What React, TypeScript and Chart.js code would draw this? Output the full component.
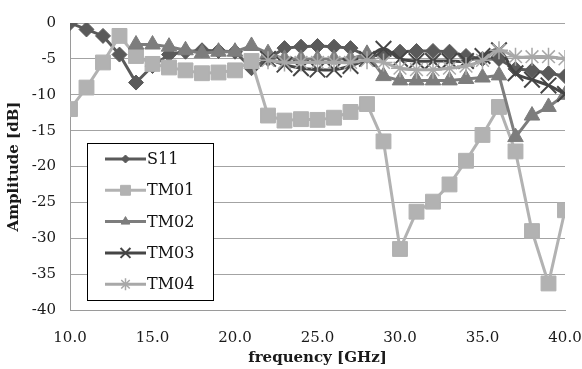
import React, { useEffect, useRef } from 'react';
import { Chart, registerables } from 'chart.js';
import { drawPoint } from 'chart.js/helpers';

Chart.register(...registerables);

const freq = [10, 11, 12, 13, 14, 15, 16, 17, 18, 19, 20, 21, 22, 23, 24, 25, 26, 27, 28, 29, 30, 31, 32, 33, 34, 35, 36, 37, 38, 39, 40];

const s11 = [0, -0.9, -1.8, -4.4, -8.3, -6.0, -4.4, -4.0, -3.8, -3.9, -4.0, -6.3, -5.0, -3.5, -3.3, -3.2, -3.3, -3.5, -4.6, -4.5, -4.0, -3.9, -3.9, -4.0, -4.6, -5.0, -5.0, -6.4, -6.6, -7.0, -7.4];

const tm01 = [-12.0, -9.0, -5.5, -1.8, -4.6, -5.7, -6.2, -6.6, -7.0, -6.9, -6.6, -5.3, -12.9, -13.6, -13.4, -13.5, -13.2, -12.4, -11.3, -16.5, -31.5, -26.3, -24.9, -22.5, -19.2, -15.6, -11.7, -17.9, -29.0, -36.3, -26.1];

const tm02 = [null, null, null, null, -3.0, -3.0, -3.3, -3.8, -4.2, -4.0, -4.0, -3.2, -4.2, -5.0, -5.0, -5.0, -5.0, -5.0, -4.3, -7.4, -8.0, -8.0, -8.0, -8.0, -7.8, -7.6, -7.3, -15.9, -12.9, -11.7, -10.0];

const tm03 = [null, null, null, null, null, null, null, null, null, null, null, null, -5.0, -5.8, -6.3, -6.5, -6.5, -6.0, -5.0, -3.6, -5.0, -5.3, -5.3, -5.3, -5.3, -4.6, -3.8, -7.0, -7.9, -8.7, -9.9];

const tm04 = [null, null, null, null, null, null, null, null, null, null, null, null, -5.2, -5.5, -5.5, -5.5, -5.5, -5.5, -5.2, -5.5, -6.3, -6.5, -6.5, -6.3, -6.0, -5.2, -3.8, -4.7, -4.7, -4.7, -5.0];

const seriesNames = ['S11', 'TM01', 'TM02', 'TM03', 'TM04'];
const xTicks = [10, 15, 20, 25, 30, 35, 40];
const yTicks = [0, -5, -10, -15, -20, -25, -30, -35, -40];

const FONT = '"DejaVu Serif", "Liberation Serif", serif';

const styles = [
  { color: '#5a5a5a', pointStyle: 'rectRot', radius: 7.5, lr: 4, tension: 0, bw: 1 },
  { color: '#b2b2b2', pointStyle: 'rect', radius: 10.5, lr: 7, tension: 0, bw: 1 },
  { color: '#7d7d7d', pointStyle: 'triangle', radius: 9, lr: 5, tension: 0, bw: 1 },
  { color: '#454545', pointStyle: 'crossRot', radius: 11, lr: 7, tension: 0.4, bw: 2 },
  { color: '#a8a8a8', pointStyle: 'star', radius: 9, lr: 6, tension: 0.4, bw: 1.5 },
];

const legendPlugin = {
  id: 'boxLegend',
  afterDraw(chart: any) {
    const ctx = chart.ctx;
    ctx.save();
    const bx = 87.5, by = 143.5, bw = 126, bh = 157;
    ctx.fillStyle = '#ffffff';
    ctx.fillRect(bx, by, bw, bh);
    ctx.strokeStyle = '#000000';
    ctx.lineWidth = 1;
    ctx.strokeRect(bx, by, bw, bh);
    chart.data.datasets.forEach((ds: any, i: number) => {
      const st = styles[i];
      const y = 159 + i * 31.3;
      ctx.strokeStyle = ds.borderColor;
      ctx.lineWidth = 3;
      ctx.beginPath();
      ctx.moveTo(105, y);
      ctx.lineTo(146, y);
      ctx.stroke();
      ctx.fillStyle = ds.borderColor;
      ctx.strokeStyle = ds.borderColor;
      ctx.lineWidth = st.bw;
      drawPoint(ctx, { pointStyle: st.pointStyle, radius: st.lr, rotation: 0, borderWidth: st.bw }, 125.5, y);
      ctx.fillStyle = '#111';
      ctx.font = '16px ' + FONT;
      ctx.textBaseline = 'middle';
      ctx.textAlign = 'left';
      ctx.fillText(ds.label, 147, y + 1);
    });
    ctx.restore();
  },
};

export default function App() {
  const ref = useRef<HTMLCanvasElement | null>(null);
  useEffect(() => {
    document.body.style.margin = '0';
    const all = [s11, tm01, tm02, tm03, tm04];
    const datasets = all.map((arr, i) => {
      const st = styles[i];
      return {
        label: seriesNames[i],
        data: freq.map((x, j) => ({ x, y: arr[j] })),
        borderColor: st.color,
        backgroundColor: st.color,
        borderWidth: 3,
        pointStyle: st.pointStyle,
        pointRadius: st.radius,
        pointBackgroundColor: st.color,
        pointBorderColor: st.color,
        pointBorderWidth: st.bw,
        tension: st.tension,
        order: 5 - i,
        spanGaps: false,
      };
    });
    const chart = new Chart(ref.current as HTMLCanvasElement, {
      type: 'line',
      data: { datasets: datasets as any },
      plugins: [legendPlugin],
      options: {
        animation: false,
        responsive: false,
        maintainAspectRatio: false,
        layout: { padding: { top: 20, right: 0, left: 0, bottom: 0 } },
        plugins: { legend: { display: false }, tooltip: { enabled: false } },
        scales: {
          x: {
            type: 'linear',
            min: 10,
            max: 40,
            afterFit: (s: any) => { s.height = 59; s.paddingRight = 17; },
            afterBuildTicks: (s: any) => { s.ticks = xTicks.map((v) => ({ value: v })); },
            ticks: {
              callback: (v: any) => Number(v).toFixed(1),
              font: { family: FONT, size: 15 },
              color: '#1a1a1a',
              padding: 19,
              maxRotation: 0,
            },
            grid: { display: false, drawTicks: false },
            border: { display: true, color: '#9a9a9a', width: 1 },
            title: {
              display: true,
              text: 'frequency [GHz]',
              font: { family: FONT, size: 15, weight: 'bold' },
              color: '#1a1a1a',
              padding: { top: 0, bottom: 2 },
            },
          },
          y: {
            type: 'linear',
            min: -40,
            max: 0,
            afterFit: (s: any) => { s.width = 70; },
            afterBuildTicks: (s: any) => { s.ticks = yTicks.map((v) => ({ value: v })); },
            ticks: {
              callback: (v: any) => String(v),
              font: { family: FONT, size: 15 },
              color: '#1a1a1a',
              padding: 14,
            },
            grid: { color: '#a3a3a3', lineWidth: 1, drawTicks: false },
            border: { display: true, color: '#9a9a9a', width: 1 },
            title: {
              display: true,
              text: 'Amplitude [dB]',
              font: { family: FONT, size: 15, weight: 'bold' },
              color: '#1a1a1a',
              padding: { top: 5, bottom: 0 },
            },
          },
        },
      } as any,
    });
    return () => chart.destroy();
  }, []);
  return (
    <div style={{ width: 582, height: 369 }}>
      <canvas ref={ref} width={582} height={369} style={{ display: 'block' }} />
    </div>
  );
}
